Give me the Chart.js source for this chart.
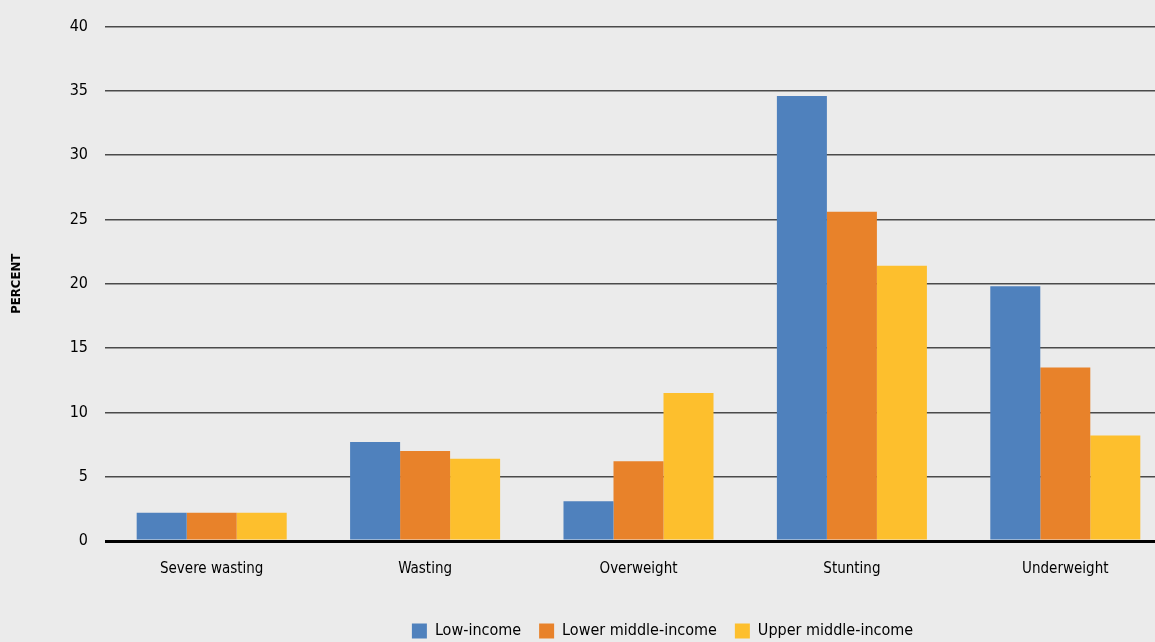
<!DOCTYPE html>
<html>
<head>
<meta charset="utf-8">
<script src="https://cdn.jsdelivr.net/npm/chart.js@4"></script>
<style>
  html, body { margin: 0; padding: 0; background: #ebebeb; }
  #wrap { width: 1155px; height: 642px; }
</style>
</head>
<body>
<div id="wrap"><canvas id="chart"></canvas></div>
<script>
// categories and values
const categories = ['Severe wasting', 'Wasting', 'Overweight', 'Stunting', 'Underweight'];
const lowIncome = [2.2, 7.7, 3.1, 34.6, 19.8];
const lowerMiddle = [2.2, 7.0, 6.2, 25.6, 13.5];
const upperMiddle = [2.2, 6.4, 11.5, 21.4, 8.2];
const seriesNames = ['Low-income', 'Lower middle-income', 'Upper middle-income'];
const yTicks = [0, 5, 10, 15, 20, 25, 30, 35, 40];

const fam = "'Liberation Sans Narrow', 'DejaVu Sans Condensed', sans-serif";

// reference is cropped: the category axis runs a bit past the right edge,
// and the legend sits right of the page centre and a bit lower
const tweakLayout = {
  id: 'tweakLayout',
  afterLayout(chart) {
    const x = chart.scales.x;
    x.right += 17;
    x.width += 17;
    x.configure();
    const lg = chart.legend;
    lg.left += 85;
    lg.right += 85;
    lg.top += 7;
    lg.bottom += 7;
  }
};

new Chart(document.getElementById('chart'), {
  type: 'bar',
  data: {
    labels: categories,
    datasets: [
      { label: seriesNames[0], data: lowIncome, backgroundColor: '#4f81bd' },
      { label: seriesNames[1], data: lowerMiddle, backgroundColor: '#e8822a' },
      { label: seriesNames[2], data: upperMiddle, backgroundColor: '#fdbf2d' }
    ]
  },
  options: {
    responsive: true,
    maintainAspectRatio: false,
    animation: false,
    layout: { padding: { top: 18, right: 0, bottom: 0, left: 0 } },
    datasets: { bar: { categoryPercentage: 0.703, barPercentage: 1.0 } },
    plugins: {
      legend: {
        position: 'bottom',
        labels: {
          boxWidth: 15, boxHeight: 15, padding: 18,
          color: '#000',
          font: { family: fam, size: 16 }
        }
      },
      tooltip: { enabled: false }
    },
    scales: {
      x: {
        grid: { display: false, drawTicks: false },
        border: { display: false },
        ticks: { color: '#000', padding: 19.5, font: { family: fam, size: 15 } }
      },
      y: {
        min: 0, max: 40,
        afterBuildTicks(scale) { scale.ticks = yTicks.map(v => ({ value: v })); },
        afterFit(scale) { scale.width = 105; },
        border: { display: false },
        grid: {
          drawTicks: false,
          color: ctx => ctx.tick && ctx.tick.value === 0 ? '#000' : '#4a4a4a',
          lineWidth: ctx => ctx.tick && ctx.tick.value === 0 ? 3 : 1.5
        },
        ticks: { color: '#000', padding: 17, font: { family: fam, size: 16 } },
        title: {
          display: true, text: 'PERCENT', color: '#000',
          font: { family: fam, size: 13, weight: 'bold' },
          padding: { top: 9, bottom: 0 }
        }
      }
    }
  },
  plugins: [tweakLayout]
});
</script>
</body>
</html>
